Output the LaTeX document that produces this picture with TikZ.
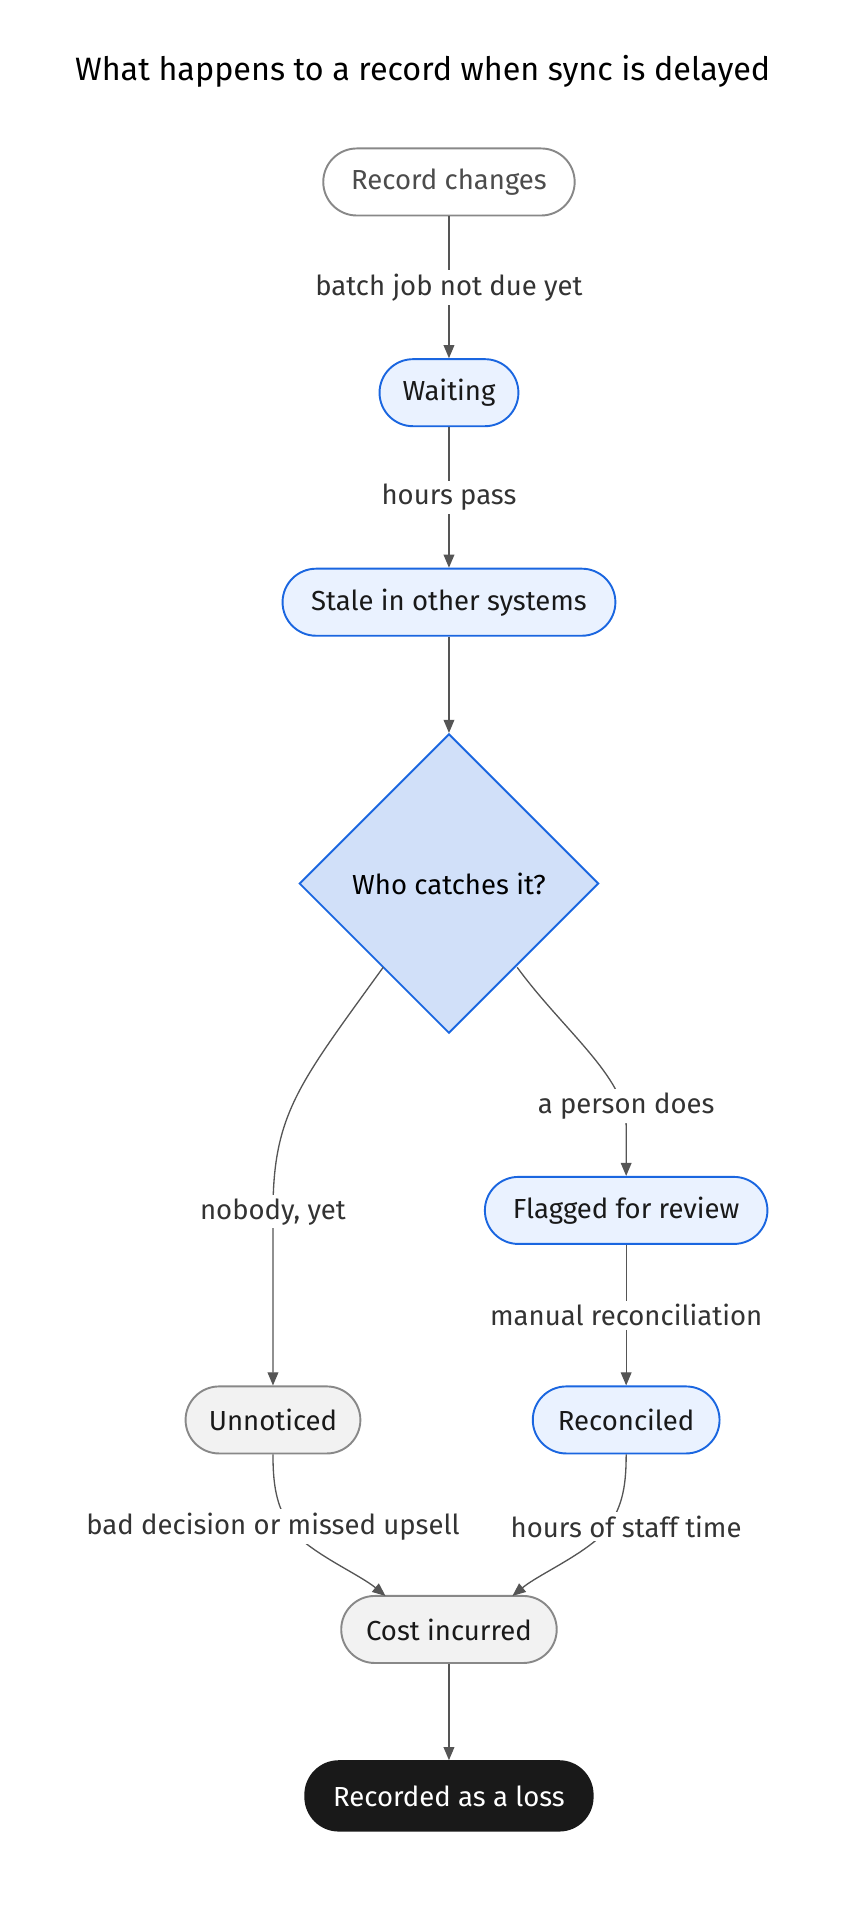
\documentclass[tikz,border=0pt]{standalone}
\usepackage{fontspec}
\setmainfont{Fira Sans}
\usetikzlibrary{shapes.geometric,arrows.meta}
\definecolor{blueb}{HTML}{1A66E0}
\definecolor{bluef}{HTML}{EAF2FF}
\definecolor{grayb}{HTML}{888888}
\definecolor{edge}{HTML}{555555}
\tikzset{
 box/.style={rounded corners=28pt,minimum height=56pt,inner xsep=0pt,font=\fontsize{23}{27}\selectfont,line width=1.6pt},
 bluebox/.style={box,draw=blueb,fill=bluef,text=black!90},
 graybox/.style={box,draw=grayb,fill=black!5,text=black!90},
 lbl/.style={fill=white,font=\fontsize{23}{27}\selectfont\color{black!80},inner sep=3pt},
 con/.style={draw=edge,line width=1.1pt,-{Triangle[length=11pt,width=9pt]}}
}
\begin{document}
\begin{tikzpicture}[x=1pt,y=-1pt]
\useasboundingbox (0,0) rectangle (720,1597);
\node (title) at (353,60) {\fontsize{27}{32}\selectfont What happens to a record when sync is delayed};
\node[box,draw=grayb,fill=white,text=black!70,minimum width=210pt] (rec) at (375,152) {Record changes};
\node[bluebox,minimum width=116pt] (wait) at (375,328) {Waiting};
\node[bluebox,minimum width=278pt] (stale) at (375,503) {Stale in other systems};
\node[diamond,draw=blueb,fill=blueb!20,line width=1.6pt,minimum width=250pt,minimum height=250pt,inner sep=0pt,font=\fontsize{23}{27}\selectfont] (who) at (375,738) {Who catches it?};
\node[bluebox,minimum width=236pt] (flag) at (523,1011) {Flagged for review};
\node[bluebox,minimum width=156pt] (reco) at (523,1186) {Reconciled};
\node[graybox,minimum width=146pt] (unn) at (228,1186) {Unnoticed};
\node[graybox,minimum width=180pt] (cost) at (375,1361) {Cost incurred};
\node[box,draw=black!90,fill=black!90,text=white,minimum width=240pt,minimum height=58pt] (loss) at (375,1500) {Recorded as a loss};
\coordinate (wl) at (320,808);
\coordinate (wr) at (432,808);
\coordinate (cl) at (322,1333);
\coordinate (cr) at (428,1333);

\draw[con] (rec) -- (wait) node[lbl,pos=0.5] (l1) {batch job not due yet};
\draw[con] (wait) -- (stale) node[lbl,pos=0.5] (l2) {hours pass};
\draw[con] (stale) -- (who);
\draw[con] (wl) .. controls (250,905) and (228,930) .. (228,1012) -- (unn.north);
\node[lbl] (l3) at (228,1012) {nobody, yet};
\draw[con] (wr) .. controls (470,860) and (523,900) .. (523,940) -- (flag.north);
\node[lbl] (l4) at (523,924) {a person does};
\draw[con] (flag) -- (reco) node[lbl,pos=0.5] (l5) {manual reconciliation};
\draw[con] (unn.south) .. controls (228,1245) and (232,1260) .. (245,1280) .. controls (265,1300) and (300,1315) .. (cl);
\node[lbl] (l6) at (228,1275) {bad decision or missed upsell};
\draw[con] (reco.south) .. controls (523,1245) and (519,1260) .. (505,1280) .. controls (485,1300) and (450,1315) .. (cr);
\node[lbl] (l7) at (523,1275) {hours of staff time};
\draw[con] (cost) -- (loss);
\end{tikzpicture}
\end{document}
